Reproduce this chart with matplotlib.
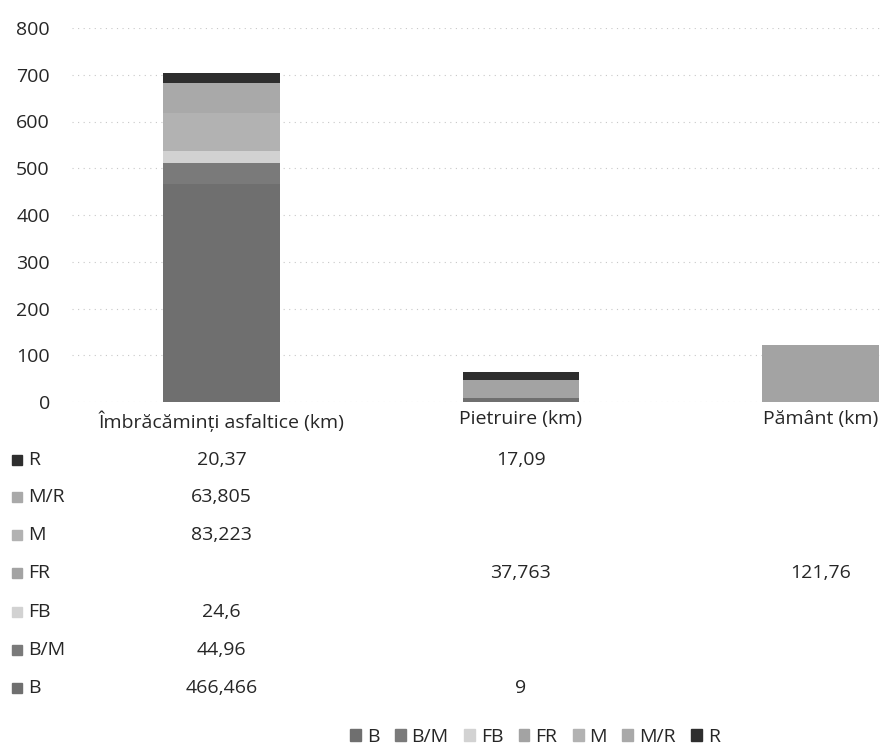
import matplotlib
matplotlib.use("Agg")
import matplotlib.pyplot as plt
import matplotlib.transforms as mtransforms
from matplotlib.patches import Rectangle
import numpy as np

plt.rcParams['font.family'] = ['Open Sans', 'DejaVu Sans']

# date
categorii = ['Îmbrăcăminți asfaltice (km)', 'Pietruire (km)', 'Pământ (km)']
serii = ['B', 'B/M', 'FB', 'FR', 'M', 'M/R', 'R']
val_B = [466.466, 9, np.nan]
val_BM = [44.96, np.nan, np.nan]
val_FB = [24.6, np.nan, np.nan]
val_FR = [np.nan, 37.763, 121.76]
val_M = [83.223, np.nan, np.nan]
val_MR = [63.805, np.nan, np.nan]
val_R = [20.37, 17.09, np.nan]
valori = [val_B, val_BM, val_FB, val_FR, val_M, val_MR, val_R]
culori = ['#6f6f6f', '#7a7a7a', '#d2d2d2', '#a3a3a3', '#b2b2b2', '#a9a9a9', '#2e2e2e']
yticks = [0, 100, 200, 300, 400, 500, 600, 700, 800]

W, H = 883, 749
FS = 14
TXT = '#262626'
fig = plt.figure(figsize=(W / 100, H / 100), dpi=100)
ax = fig.add_axes([72 / W, 1 - 402 / H, (W - 72) / W, (402 - 28) / H])

x = np.arange(len(categorii))
jos = np.zeros(len(categorii))
for nume, v, c in zip(serii, valori, culori):
    h = np.nan_to_num(np.array(v, dtype=float))
    ax.bar(x, h, 0.39, bottom=jos, color=c, label=nume, zorder=2)
    jos += h

ax.set_xlim(-0.5, 2.21)
ax.set_ylim(0, 800)
ax.set_yticks(yticks)
ax.set_yticklabels([str(t) for t in yticks], fontsize=FS, color=TXT)
ax.tick_params(axis='y', length=0, pad=16)
ax.set_xticks(x)
ax.set_xticklabels(categorii, fontsize=FS, color=TXT)
ax.tick_params(axis='x', length=0, pad=6)
ax.grid(axis='y', color='#c8c8c8', linestyle=(0, (1, 4)), linewidth=0.8, zorder=0)
for s in ax.spines.values():
    s.set_visible(False)

# tabel de date
trans = mtransforms.blended_transform_factory(ax.transData, fig.transFigure)
rand_y = [688, 650, 612, 573, 535, 497, 460]
for nume, v, c, yp in zip(serii, valori, culori, rand_y):
    yf = 1 - yp / H
    fig.patches.append(Rectangle((12 / W, yf - 5 / H), 10 / W, 10 / H,
                                 transform=fig.transFigure, color=c))
    fig.text(28 / W, yf, nume, fontsize=FS, color=TXT, va='center')
    for i, val in enumerate(v):
        if not np.isnan(val):
            ax.text(i, yf, f"{val:g}".replace('.', ','), transform=trans,
                    fontsize=FS, color=TXT, ha='center', va='center')

# legenda
handles = [Rectangle((0, 0), 1, 1, color=c) for c in culori]
fig.legend(handles, serii, loc='center', bbox_to_anchor=(535 / W, 1 - 737 / H),
           ncol=7, frameon=False, fontsize=FS, handlelength=0.55, handleheight=0.55,
           handletextpad=0.3, columnspacing=0.8, labelcolor=TXT)

fig.savefig('out.png', dpi=100)
